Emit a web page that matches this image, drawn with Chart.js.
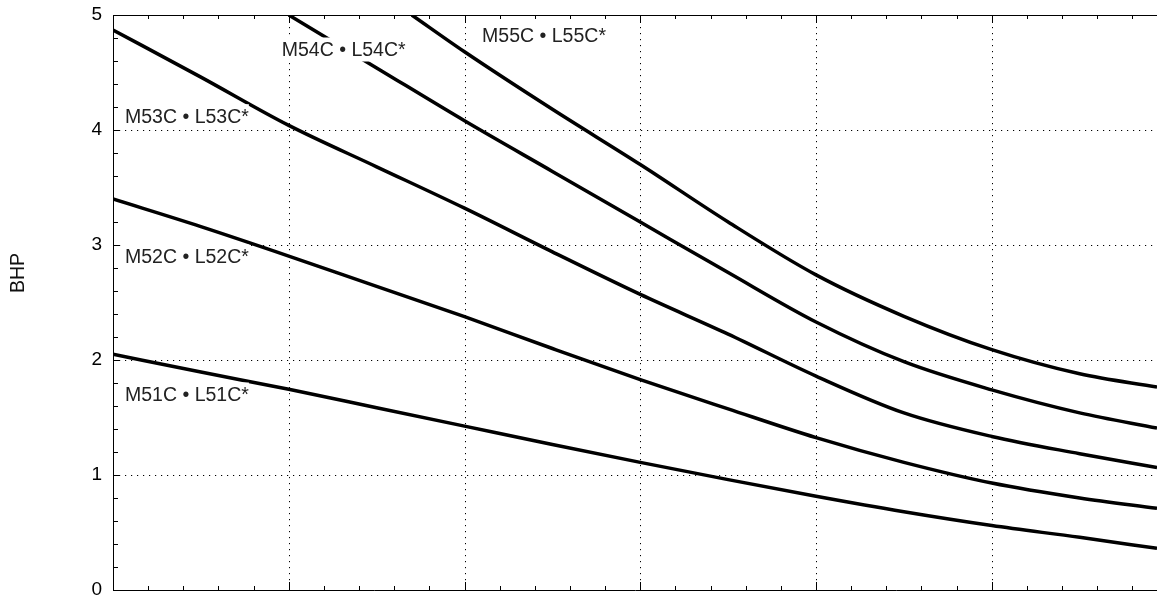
<!DOCTYPE html>
<html>
<head>
<meta charset="utf-8">
<script src="https://cdn.jsdelivr.net/npm/chart.js@4"></script>
<style>
  html, body { margin: 0; padding: 0; background: #fff; overflow: hidden; }
  canvas { display: block; }
</style>
</head>
<body>
<canvas id="c" width="1157" height="599"></canvas>
<script>
// ---- data (x in major-division units, y in BHP) ----
const xCommon = [0, 0.5, 1, 1.5, 2, 2.5, 3, 3.5, 4, 4.5, 5, 5.5, 5.94];
const m51Values = [2.05, 1.895, 1.745, 1.585, 1.425, 1.265, 1.11, 0.96, 0.815, 0.68, 0.56, 0.458, 0.362];
const m52Values = [3.40, 3.16, 2.904, 2.64, 2.377, 2.10, 1.83, 1.575, 1.325, 1.11, 0.93, 0.80, 0.71];
const m53Values = [4.87, 4.46, 4.04, 3.68, 3.32, 2.94, 2.57, 2.225, 1.86, 1.54, 1.335, 1.185, 1.064];
const m54X = [1.0, 1.5, 2, 2.5, 3, 3.5, 4, 4.5, 5, 5.5, 5.94];
const m54Values = [5.0, 4.54, 4.08, 3.64, 3.20, 2.76, 2.33, 1.985, 1.74, 1.54, 1.408];
const m55X = [1.70, 2, 2.5, 3, 3.5, 4, 4.5, 5, 5.5, 5.94];
const m55Values = [5.0, 4.68, 4.18, 3.70, 3.20, 2.74, 2.38, 2.09, 1.88, 1.764];
const seriesLabels = ['M51C • L51C*', 'M52C • L52C*', 'M53C • L53C*', 'M54C • L54C*', 'M55C • L55C*'];
const labelX = [0.068, 0.068, 0.068, 0.96, 2.10];
const labelY = [1.70, 2.90, 4.12, 4.70, 4.82];
const yTickLabels = ['0', '1', '2', '3', '4', '5'];
const yTitle = 'BHP';

const toPts = (xs, ys) => xs.map((x, i) => ({ x: x, y: ys[i] }));

const FONT = '"Liberation Sans", Arial, Helvetica, sans-serif';

const decor = {
  id: 'decor',
  beforeDatasetsDraw(chart) {
    const ctx = chart.ctx, a = chart.chartArea;
    const xs = chart.scales.x, ys = chart.scales.y;
    ctx.save();
    // dotted grid
    ctx.strokeStyle = '#000';
    ctx.lineWidth = 1;
    ctx.setLineDash([1.2, 4.8]);
    for (let v = 1; v <= 5; v++) {
      const px = Math.round(xs.getPixelForValue(v)) + 0.5;
      ctx.beginPath(); ctx.moveTo(px, a.top); ctx.lineTo(px, a.bottom); ctx.stroke();
    }
    for (let v = 1; v <= 4; v++) {
      const py = Math.round(ys.getPixelForValue(v)) + 0.5;
      ctx.beginPath(); ctx.moveTo(a.left, py); ctx.lineTo(a.right, py); ctx.stroke();
    }
    ctx.setLineDash([]);
    // top border
    ctx.beginPath(); ctx.moveTo(a.left, a.top + 0.5); ctx.lineTo(a.right, a.top + 0.5); ctx.stroke();
    // x ticks (bottom and top)
    for (let i = 1; i <= 30; i++) {
      const v = i * 0.2;
      if (v > xs.max) break;
      const major = i % 5 === 0;
      const len = major ? 8 : 4;
      const px = Math.round(xs.getPixelForValue(v)) + 0.5;
      ctx.beginPath(); ctx.moveTo(px, a.bottom); ctx.lineTo(px, a.bottom - len); ctx.stroke();
      ctx.beginPath(); ctx.moveTo(px, a.top); ctx.lineTo(px, a.top + len); ctx.stroke();
    }
    // y ticks (left)
    for (let i = 1; i < 25; i++) {
      const v = i * 0.2;
      const major = i % 5 === 0;
      const len = major ? 7 : 5;
      const py = Math.round(ys.getPixelForValue(v)) + 0.5;
      ctx.beginPath(); ctx.moveTo(a.left, py); ctx.lineTo(a.left + len, py); ctx.stroke();
    }
    // y title
    ctx.fillStyle = '#111';
    ctx.font = '19.5px ' + FONT;
    ctx.translate(19, 273);
    ctx.rotate(-Math.PI / 2);
    ctx.textAlign = 'center';
    ctx.textBaseline = 'middle';
    ctx.fillText(yTitle, 0, 0);
    ctx.restore();
  },
  afterDatasetsDraw(chart) {
    const ctx = chart.ctx;
    const xs = chart.scales.x, ys = chart.scales.y;
    ctx.save();
    ctx.font = '19.5px ' + FONT;
    ctx.textBaseline = 'middle';
    ctx.textAlign = 'left';
    seriesLabels.forEach((t, i) => {
      const px = xs.getPixelForValue(labelX[i]);
      const py = ys.getPixelForValue(labelY[i]);
      const w = ctx.measureText(t).width;
      ctx.fillStyle = '#fff';
      ctx.fillRect(px - 2, py - 12, w + 2, 24);
      ctx.fillStyle = '#222';
      ctx.fillText(t, px, py + 1);
    });
    ctx.restore();
  }
};

new Chart(document.getElementById('c'), {
  type: 'line',
  data: {
    datasets: [
      { data: toPts(xCommon, m51Values) },
      { data: toPts(xCommon, m52Values) },
      { data: toPts(xCommon, m53Values) },
      { data: toPts(m54X, m54Values) },
      { data: toPts(m55X, m55Values) }
    ].map(d => Object.assign(d, {
      borderColor: '#000', borderWidth: 3.5, pointRadius: 0,
      cubicInterpolationMode: 'monotone', fill: false
    }))
  },
  plugins: [decor],
  options: {
    responsive: false,
    animation: false,
    events: [],
    layout: { padding: { top: 15, left: 0, right: 0, bottom: 0 } },
    plugins: { legend: { display: false }, tooltip: { enabled: false } },
    scales: {
      x: {
        type: 'linear', min: 0, max: 5.94,
        ticks: { display: false, stepSize: 1 },
        grid: { display: false, drawTicks: false },
        border: { display: true, color: '#000', width: 1 },
        afterFit(s) { s.height = 9; s.paddingLeft = 0; s.paddingRight = 0; s.paddingTop = 0; s.paddingBottom = 0; }
      },
      y: {
        type: 'linear', min: 0, max: 5,
        ticks: {
          stepSize: 1, padding: 11, color: '#000',
          font: { family: FONT, size: 19 },
          callback: (v) => yTickLabels[v]
        },
        grid: { display: false, drawTicks: false },
        border: { display: true, color: '#000', width: 1 },
        afterFit(s) { s.width = 113; s.paddingTop = 0; s.paddingBottom = 0; s.paddingLeft = 0; s.paddingRight = 0; }
      }
    }
  }
});
</script>
</body>
</html>
